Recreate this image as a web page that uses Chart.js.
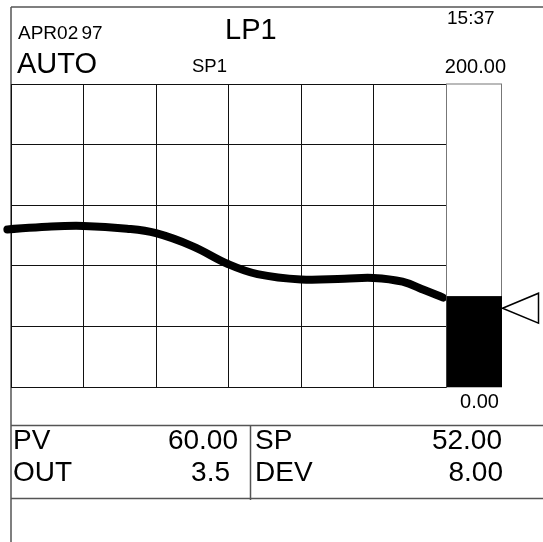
<!DOCTYPE html>
<html>
<head>
<meta charset="utf-8">
<script src="https://cdn.jsdelivr.net/npm/chart.js@4/dist/chart.umd.min.js"></script>
<style>
body{margin:0;background:#fff}
#wrap{position:relative;width:543px;height:542px;overflow:hidden;background:#fff;
  font-family:"Liberation Sans",Arial,sans-serif;color:#000}
#wrap .t{position:absolute;line-height:1;white-space:nowrap}
canvas{position:absolute;left:0;top:0}
</style>
</head>
<body>
<div id="wrap"><canvas id="loopChart" width="543" height="542"></canvas></div>
<script>

// trend, x in grid columns (0..6), y in engineering units
let trendX = [-0.05, 0.5, 1.0, 1.6, 2.0, 2.5, 3.0, 3.4, 4.0, 4.6, 5.0, 5.4, 5.7, 5.96]
let trendY = [104, 105.8, 106.3, 104.5, 101.5, 93, 81, 74.5, 71, 71.5, 72, 69.5, 64, 59]

let scaleMin = 0
let scaleMax = 200
let gridCols = 6
let gridRows = 5

let pvValue = 60
let spValue = 52
let outValue = 3.5
let devValue = 8

let loopName = "LP1"
let dateText = "APR02 97"
let timeText = "15:37"
let modeText = "AUTO"
let spName = "SP1"

function addText(str, x, baseline, size, align){

    let d = document.createElement("div")
    d.className = "t"
    d.textContent = str
    d.style.fontSize = size + "px"
    d.style.top = (baseline - size * 0.8465) + "px"

    if(align === "right"){
        d.style.right = (543 - x) + "px"
    }else{
        d.style.left = x + "px"
    }

    document.getElementById("wrap").appendChild(d)
    return d
}

const BAR_W = 55

let panelPlugin = {
    id: "panel",

    beforeDraw(chart){

        let ctx = chart.ctx

        ctx.save()
        ctx.fillStyle = "#fff"
        ctx.fillRect(0, 0, chart.width, chart.height)

        ctx.strokeStyle = "#555"
        ctx.lineWidth = 1.5

        ctx.beginPath()
        // outer frame
        ctx.moveTo(11, 7)
        ctx.lineTo(543, 7)
        ctx.moveTo(11, 7)
        ctx.lineTo(11, 542)
        // data panel
        ctx.moveTo(11, 425.5)
        ctx.lineTo(543, 425.5)
        ctx.moveTo(11, 498.5)
        ctx.lineTo(543, 498.5)
        ctx.moveTo(250.5, 425.5)
        ctx.lineTo(250.5, 500)
        ctx.stroke()

        ctx.restore()
    },

    afterDatasetsDraw(chart){

        let ctx = chart.ctx
        let y = chart.scales.y
        let area = chart.chartArea

        let left = Math.round(area.right) + 0.5
        let right = left + BAR_W
        let top = y.getPixelForValue(scaleMax)
        let zero = y.getPixelForValue(scaleMin)
        let pvTop = y.getPixelForValue(pvValue)
        let spY = y.getPixelForValue(spValue)

        ctx.save()

        ctx.strokeStyle = "#777"
        ctx.lineWidth = 1
        ctx.strokeRect(left, top, BAR_W, zero - top)

        ctx.fillStyle = "#000"
        ctx.fillRect(left, pvTop, BAR_W + 0.5, zero - pvTop)

        // setpoint marker
        ctx.beginPath()
        ctx.moveTo(right + 1, spY)
        ctx.lineTo(right + 37, spY - 15)
        ctx.lineTo(right + 37, spY + 15)
        ctx.closePath()
        ctx.fillStyle = "#fff"
        ctx.fill()
        ctx.strokeStyle = "#000"
        ctx.lineWidth = 1.5
        ctx.stroke()

        ctx.restore()
    }
}

let trendChart =
new Chart(
    document.getElementById("loopChart"),
    {
        type: 'line',
        data: {
            datasets: [{
                label: 'PV',
                data: trendX.map((x, i) => ({x: x, y: trendY[i]})),
                borderColor: '#000',
                borderWidth: 8,
                borderCapStyle: 'round',
                pointRadius: 0,
                tension: 0.4,
                fill: false,
                clip: false
            }]
        },
        options: {
            responsive: false,
            animation: false,
            devicePixelRatio: 1,
            layout: {
                autoPadding: false,
                padding: {left: 11, top: 84, right: 97, bottom: 155}
            },
            plugins: {
                legend: {display: false},
                tooltip: {enabled: false}
            },
            scales: {
                x: {
                    type: 'linear',
                    min: 0,
                    max: gridCols,
                    ticks: {display: false, stepSize: 1},
                    grid: {color: '#111', lineWidth: 1, drawTicks: false},
                    border: {color: '#111'}
                },
                y: {
                    min: scaleMin,
                    max: scaleMax,
                    ticks: {display: false, stepSize: (scaleMax - scaleMin) / gridRows},
                    grid: {color: '#111', lineWidth: 1, drawTicks: false},
                    border: {color: '#111'}
                }
            }
        },
        plugins: [panelPlugin]
    }
)

// header
let dateDiv = addText(dateText, 18, 39, 19)
dateDiv.style.wordSpacing = "-2px"
addText(loopName, 225, 40, 29)
addText(timeText, 447, 24, 19)
addText(modeText, 17, 74, 29)
addText(spName, 192, 73, 18.5)
addText(scaleMax.toFixed(2), 506, 73, 20, "right")
addText(scaleMin.toFixed(2), 499, 408, 20, "right")

// data panel
addText("PV", 13, 450, 28)
addText(pvValue.toFixed(2), 238, 450, 28, "right")
addText("SP", 255, 450, 28)
addText(spValue.toFixed(2), 502, 450, 28, "right")
addText("OUT", 13, 482, 28)
addText(outValue.toFixed(1), 230, 482, 28, "right")
addText("DEV", 255, 482, 28)
addText(devValue.toFixed(2), 503, 482, 28, "right")

</script>
</body>
</html>
